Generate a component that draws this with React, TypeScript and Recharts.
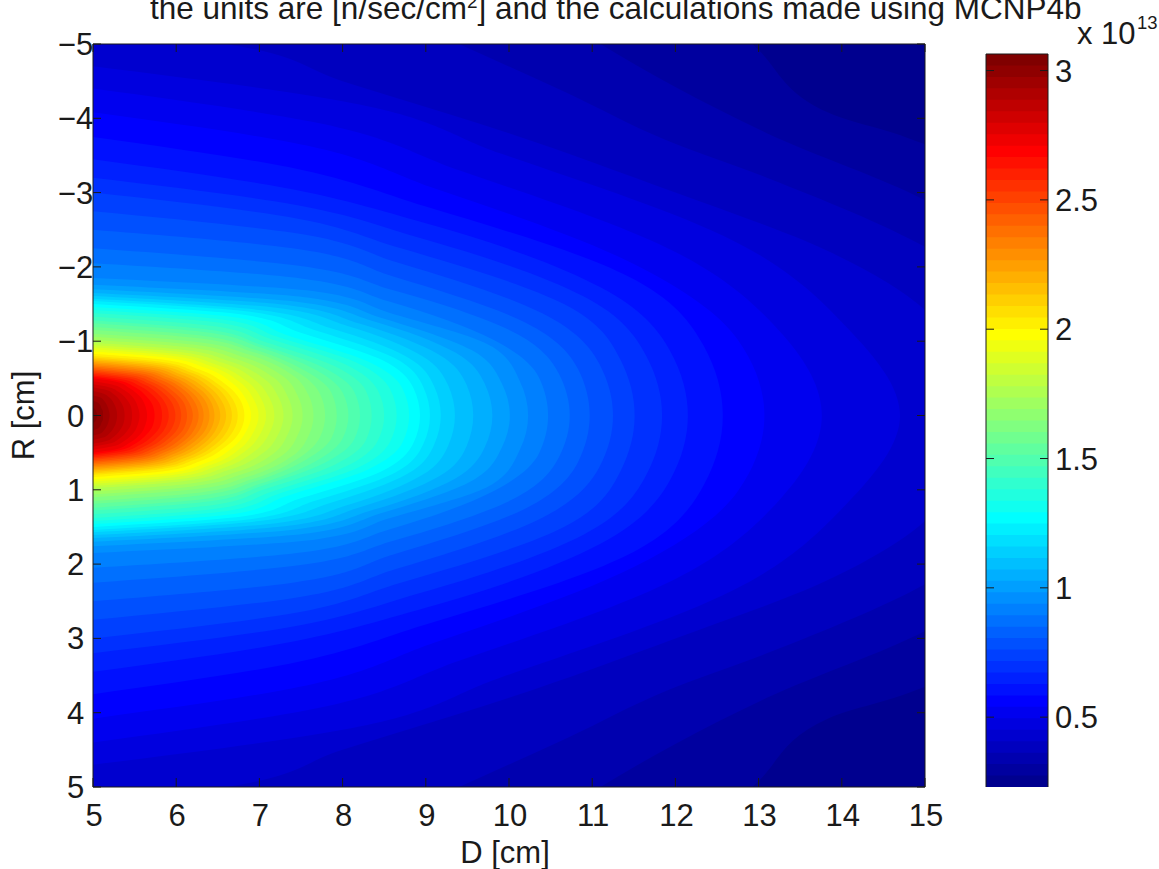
import React from 'react';
import { ComposedChart, Area, XAxis, YAxis } from 'recharts';

const FONT = '"Liberation Sans", Arial, sans-serif';
const INK = '#1a1a1a';

const titleText = 'the units are [n/sec/cm';
const titleTail = '] and the calculations made using MCNP4b';
const dTicks = [5, 6, 7, 8, 9, 10, 11, 12, 13, 14, 15];
const rTicks = [-5, -4, -3, -2, -1, 0, 1, 2, 3, 4, 5];
const barTicks = [0.5, 1, 1.5, 2, 2.5, 3];
const barLimits = [0.23, 3.064];

// Lowest contours, as [R, D] pairs on one side of the axis (they leave the frame).
const contour0 = [[0, 20], [6, 20]];
const contour1 = [[0, 16.5], [3.4, 15.6], [3.65, 15], [3.75, 14.76], [4.07, 13.85], [4.92, 13], [5.5, 12.5]];
const contour2 = [[0, 18], [2.2, 16], [2.9, 15], [3.8, 13.1], [4.42, 12], [5, 11.1], [5.5, 10.4]];
const contour3 = [[0, 17], [1.5, 16], [2.27, 15], [3.2, 13.1], [3.7, 11.9], [4.34, 10.7], [5, 9.4], [5.5, 8.4]];
const contour4 = [[0, 15.7], [1.42, 15], [2.23, 13.8], [3, 12], [3.8, 10], [4.5, 8], [5, 6.6], [5.2, 5]];

// Contours 5..63: half height where each meets D=5, and D at 0, 1/4, 1/2, 3/4 and 9/10 of it.
const contourEdgeR = [
  4.7, 4.4, 4.08, 3.75,
  3.45, 3.2, 3.0, 2.75, 2.5, 2.25, 2.05, 1.85,
  1.76, 1.7, 1.65, 1.61, 1.57, 1.54, 1.5, 1.46,
  1.42, 1.38, 1.33, 1.28, 1.24, 1.19, 1.15, 1.1,
  1.06, 1.02, 0.98, 0.95, 0.92, 0.89, 0.86, 0.83,
  0.8, 0.78, 0.76, 0.74, 0.72, 0.7, 0.68, 0.66,
  0.64, 0.62, 0.6, 0.58, 0.56, 0.54, 0.52, 0.5,
  0.46, 0.42, 0.38, 0.33, 0.27, 0.2, 0.1,
];
const contourNoseD = [
  14.7, 13.76, 13.07, 12.57,
  12.15, 11.84, 11.51, 11.25, 10.97, 10.73, 10.47, 10.23,
  10.01, 9.8, 9.57, 9.35, 9.18, 9.05, 8.93, 8.8,
  8.65, 8.5, 8.35, 8.21, 8.07, 7.93, 7.79, 7.65,
  7.52, 7.4, 7.29, 7.18, 7.08, 6.99, 6.9, 6.82,
  6.74, 6.67, 6.6, 6.53, 6.46, 6.4, 6.33, 6.27,
  6.2, 6.13, 6.06, 5.99, 5.91, 5.83, 5.74, 5.65,
  5.56, 5.47, 5.38, 5.29, 5.2, 5.12, 5.05,
];
const contourD25 = [
  14.07, 13.28, 12.75, 12.34,
  11.94, 11.65, 11.34, 11.09, 10.83, 10.6, 10.36, 10.13,
  9.91, 9.71, 9.49, 9.27, 9.1, 8.97, 8.85, 8.72,
  8.57, 8.42, 8.28, 8.14, 8.0, 7.87, 7.73, 7.59,
  7.46, 7.34, 7.23, 7.12, 7.02, 6.93, 6.84, 6.77,
  6.69, 6.62, 6.55, 6.48, 6.42, 6.36, 6.29, 6.23,
  6.16, 6.1, 6.03, 5.96, 5.88, 5.81, 5.72, 5.63,
  5.54, 5.46, 5.37, 5.28, 5.19, 5.12, 5.05,
];
const contourD50 = [
  12.7, 12.0, 11.5, 11.43,
  11.1, 10.9, 10.66, 10.4, 10.2, 10.05, 9.8, 9.8,
  9.55, 9.35, 9.15, 8.95, 8.78, 8.63, 8.47, 8.3,
  8.17, 8.03, 7.9, 7.78, 7.67, 7.56, 7.47, 7.39,
  7.28, 7.17, 7.06, 6.95, 6.85, 6.77, 6.68, 6.6,
  6.53, 6.47, 6.4, 6.34, 6.28, 6.22, 6.16, 6.11,
  6.05, 5.98, 5.92, 5.86, 5.79, 5.72, 5.64, 5.57,
  5.49, 5.41, 5.33, 5.25, 5.17, 5.1, 5.04,
];
const contourD75 = [
  9.9, 9.4, 9.1, 9.0,
  9.0, 8.9, 8.7, 8.65, 8.6, 8.6, 8.55, 8.55,
  8.45, 8.35, 8.2, 8.05, 7.85, 7.65, 7.47, 7.3,
  7.2, 7.12, 7.05, 7.0, 6.98, 6.93, 6.9, 6.86,
  6.78, 6.71, 6.63, 6.55, 6.47, 6.41, 6.34, 6.27,
  6.21, 6.16, 6.11, 6.05, 6.0, 5.95, 5.9, 5.86,
  5.81, 5.76, 5.71, 5.66, 5.61, 5.55, 5.49, 5.43,
  5.37, 5.31, 5.25, 5.19, 5.13, 5.08, 5.03,
];
const contourD90 = [
  8.0, 7.6, 7.4, 7.2,
  7.1, 7.2, 7.2, 7.3, 7.4, 7.4, 7.5, 7.7,
  7.6, 7.45, 7.35, 7.2, 7.05, 6.95, 6.85, 6.75,
  6.65, 6.56, 6.49, 6.43, 6.38, 6.33, 6.29, 6.25,
  6.2, 6.15, 6.1, 6.05, 6.0, 5.96, 5.91, 5.87,
  5.83, 5.79, 5.75, 5.71, 5.67, 5.64, 5.6, 5.57,
  5.53, 5.5, 5.47, 5.43, 5.4, 5.36, 5.32, 5.29,
  5.24, 5.2, 5.16, 5.12, 5.09, 5.05, 5.02,
];

// MATLAB jet(64)
function jet(k: number): string {
  const s = 0.0625;
  let r = 0, g = 0, b = 0;
  if (k < 8) b = 0.5625 + k * s;
  else if (k < 24) { g = (k - 7) * s; b = 1; }
  else if (k < 40) { r = (k - 23) * s; g = 1; b = 1 - (k - 23) * s; }
  else if (k < 56) { r = 1; g = 1 - (k - 39) * s; }
  else r = 1 - (k - 55) * s;
  const h = (v: number) => Math.round(v * 255);
  return `rgb(${h(r)},${h(g)},${h(b)})`;
}

type Pt = { r: number; d: number };
const mirror = (half: number[][]): Pt[] => [
  ...half.slice(1).reverse().map(([r, d]) => ({ r: -r, d })),
  ...half.map(([r, d]) => ({ r, d })),
];

const upperContours = contourEdgeR.map((e, i) => [
  [0, contourNoseD[i]],
  [e * 0.25, contourD25[i]],
  [e * 0.5, contourD50[i]],
  [e * 0.75, contourD75[i]],
  [e * 0.9, contourD90[i]],
  [e, 5],
]);
const contours = [contour0, contour1, contour2, contour3, contour4, ...upperContours].map(mirror);
const barStep = (barLimits[1] - barLimits[0]) / 64;
const barBands = Array.from({ length: 64 }, (_, k) => [
  { v: barLimits[0] + k * barStep, x: 1 },
  { v: barLimits[1], x: 1 },
]);

const FS = 31;
const tickText = { fontFamily: FONT, fontSize: FS, fill: INK };
const blank = () => '';

const LeftTick = ({ y, payload }: any) => (
  <text x={75.5} y={y + 11} textAnchor="middle" {...tickText}>
    {payload.value < 0 ? `\u2212${-payload.value}` : payload.value}
  </text>
);
const BottomTick = ({ x, payload }: any) => (
  <text x={x + 1} y={826} textAnchor="middle" {...tickText}>{payload.value}</text>
);
const BarTick = ({ y, payload }: any) => (
  <text x={1055} y={y + 11} textAnchor="start" {...tickText}>{payload.value}</text>
);

const W = 1159;
const H = 869;
const layer: React.CSSProperties = { position: 'absolute', left: 0, top: 0 };

export default function App() {
  return (
    <div style={{ position: 'absolute', left: 0, top: 0, width: W, height: H, overflow: 'hidden', background: '#fff' }}>
      {/* filled contours */}
      <ComposedChart width={W} height={H} layout="vertical" margin={{ top: 44, right: 234, bottom: 82, left: 93 }} style={layer}>
        <XAxis xAxisId="b" type="number" dataKey="d" domain={[5, 15]} allowDataOverflow hide />
        <YAxis yAxisId="l" type="number" dataKey="r" domain={[-5, 5]} allowDataOverflow hide />
        {contours.map((pts, k) => (
          <Area key={k} xAxisId="b" yAxisId="l" data={pts} dataKey="d" type="monotone" baseValue={5}
            fill={jet(k)} fillOpacity={1} stroke="none" isAnimationActive={false} dot={false} activeDot={false} />
        ))}
      </ComposedChart>

      {/* colour bar */}
      <ComposedChart width={W} height={H} layout="vertical" margin={{ top: 54, right: 111, bottom: 82, left: 986 }} style={layer}>
        <XAxis xAxisId="b" type="number" dataKey="x" domain={[0, 1]} hide />
        <YAxis yAxisId="l" type="number" dataKey="v" domain={barLimits} reversed allowDataOverflow hide />
        {barBands.map((pts, k) => (
          <Area key={k} xAxisId="b" yAxisId="l" data={pts} dataKey="x" type="linear" baseValue={0}
            fill={jet(k)} fillOpacity={1} stroke="none" isAnimationActive={false} dot={false} activeDot={false} />
        ))}
      </ComposedChart>

      {/* D axes of the map, top and bottom */}
      <ComposedChart width={W} height={H} layout="vertical" margin={{ top: 0, right: 234, bottom: 0, left: 93 }} style={layer}>
        <XAxis xAxisId="b" type="number" orientation="bottom" domain={[5, 15]} ticks={dTicks} height={82} allowDataOverflow
          stroke={INK} tickSize={-9} tickMargin={0} interval={0} tick={<BottomTick />}
          label={{ value: 'D [cm]', position: 'insideBottom', offset: 6, dx: -4, fontFamily: FONT, fontSize: FS, fill: INK }} />
        <XAxis xAxisId="t" type="number" orientation="top" domain={[5, 15]} ticks={dTicks} height={44} allowDataOverflow
          stroke={INK} tickSize={-8} interval={0} tickFormatter={blank} />
        <YAxis yAxisId="l" type="number" domain={[-5, 5]} allowDataOverflow hide />
      </ComposedChart>

      {/* R axes of the map, left and right */}
      <ComposedChart width={W} height={H} margin={{ top: 44, right: 0, bottom: 82, left: 0 }} style={layer}>
        <XAxis xAxisId="b" type="number" domain={[5, 15]} allowDataOverflow hide />
        <YAxis yAxisId="l" type="number" orientation="left" domain={[-5, 5]} ticks={rTicks} width={93} allowDataOverflow
          reversed stroke={INK} tickSize={-8} tickMargin={0} interval={0} tick={<LeftTick />}
          label={{ value: 'R [cm]', angle: -90, position: 'insideLeft', offset: 23, fontFamily: FONT, fontSize: FS, fill: INK, style: { textAnchor: 'middle' } }} />
        <YAxis yAxisId="r" type="number" orientation="right" domain={[-5, 5]} ticks={rTicks} width={234} allowDataOverflow
          reversed stroke={INK} tickSize={-8} interval={0} tickFormatter={blank} />
      </ComposedChart>

      {/* frame, ticks and labels of the colour bar */}
      <ComposedChart width={W} height={H} margin={{ top: 0, right: 0, bottom: 82, left: 0 }} style={layer}>
        <XAxis xAxisId="b" type="number" orientation="bottom" domain={[0, 1]} height={0} tick={false} tickLine={false} stroke={INK} />
        <XAxis xAxisId="t" type="number" orientation="top" domain={[0, 1]} height={54} tick={false} tickLine={false} stroke={INK} />
        <YAxis yAxisId="l" type="number" orientation="left" domain={barLimits} ticks={barTicks} width={986}
          stroke={INK} tickSize={-8} interval={0} tickFormatter={blank} allowDataOverflow />
        <YAxis yAxisId="r" type="number" orientation="right" domain={barLimits} ticks={barTicks} width={111}
          stroke={INK} tickSize={-8} tickMargin={0} interval={0} tick={<BarTick />} allowDataOverflow />
      </ComposedChart>

      <div style={{ position: 'absolute', left: 150, top: -7, fontFamily: FONT, fontSize: 31.5, color: INK, whiteSpace: 'nowrap', lineHeight: '30px' }}>
        {titleText}<sup style={{ fontSize: 19, lineHeight: 0 }}>2</sup>{titleTail}
      </div>
      <div style={{ position: 'absolute', left: 1077, top: 19, fontFamily: FONT, fontSize: 31, color: INK, whiteSpace: 'nowrap', lineHeight: '30px' }}>
        x 10
      </div>
      <div style={{ position: 'absolute', left: 1137, top: 13, fontFamily: FONT, fontSize: 18.5, color: INK, lineHeight: '20px' }}>13</div>
    </div>
  );
}
